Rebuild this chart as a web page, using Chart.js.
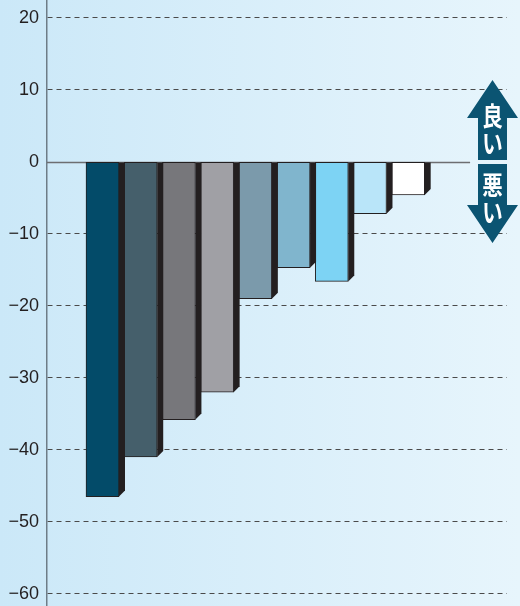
<!DOCTYPE html>
<html><head><meta charset="utf-8">
<script src="https://cdn.jsdelivr.net/npm/chart.js@4.4.1/dist/chart.umd.min.js"></script>
<style>html,body{margin:0;padding:0;background:#d6edf9}#wrap{width:520px;height:606px;position:relative}</style>
</head><body><div id="wrap"><canvas id="c" width="520" height="606"></canvas></div>
<script>
const categories = ['1','2','3','4','5','6','7','8','9'];
const values = [-46.5, -41.0, -35.8, -32.0, -19.0, -14.7, -16.6, -7.2, -4.6];
const barColors = ['#034b69','#455f6b','#77777b','#a0a0a5','#7b9aab','#80b5cd','#7dd3f4','#b9e5f9','#ffffff'];
const tickValues = [20, 10, 0, -10, -20, -30, -40, -50, -60];
const arrowUpText = ['良','い'];
const arrowDownText = ['悪','い'];

const bgPlugin = {
  id: 'bg',
  beforeDraw(chart) {
    const {ctx, width, height} = chart;
    const g = ctx.createLinearGradient(0, 0, width, 0);
    g.addColorStop(0, '#cbe8f8');
    g.addColorStop(1, '#e7f5fc');
    ctx.save(); ctx.fillStyle = g; ctx.fillRect(0, 0, width, height); ctx.restore();
  }
};

const zeroLinePlugin = {
  id: 'zeroLine',
  beforeDatasetsDraw(chart) {
    const {ctx, scales: {x, y}, chartArea} = chart;
    const py = Math.round(y.getPixelForValue(0)) + 0.5;
    ctx.save();
    ctx.strokeStyle = '#6d6e71'; ctx.lineWidth = 1.5;
    ctx.beginPath(); ctx.moveTo(chartArea.left, py);
    ctx.lineTo(x.getPixelForValue(categories.length + 1.62), py); ctx.stroke();
    ctx.restore();
  }
};

const sidePlugin = {
  id: 'sides',
  afterDatasetsDraw(chart) {
    const {ctx} = chart;
    const meta = chart.getDatasetMeta(0);
    const d = 6;
    ctx.save();
    ctx.fillStyle = '#231f20';
    meta.data.forEach(el => {
      const p = el.getProps(['x','y','base','width'], true);
      const r = p.x + p.width / 2;
      ctx.beginPath();
      ctx.moveTo(r, p.base);
      ctx.lineTo(r + d, p.base);
      ctx.lineTo(r + d, p.y - d);
      ctx.lineTo(r, p.y);
      ctx.closePath();
      ctx.fill();
    });
    ctx.restore();
  }
};

const arrowPlugin = {
  id: 'arrow',
  afterDraw(chart) {
    const {ctx} = chart;
    const cx = 492.5, sl = 478, sr = 507, hl = 467, hr = 518;
    ctx.save();
    ctx.fillStyle = '#0b5472';
    // up arrow
    ctx.beginPath();
    ctx.moveTo(cx, 80); ctx.lineTo(hr, 118); ctx.lineTo(sr, 118); ctx.lineTo(sr, 160);
    ctx.lineTo(sl, 160); ctx.lineTo(sl, 118); ctx.lineTo(hl, 118); ctx.closePath(); ctx.fill();
    // down arrow
    ctx.beginPath();
    ctx.moveTo(sl, 164); ctx.lineTo(sr, 164); ctx.lineTo(sr, 205); ctx.lineTo(hr, 205);
    ctx.lineTo(cx, 243); ctx.lineTo(hl, 205); ctx.lineTo(sl, 205); ctx.closePath(); ctx.fill();
    ctx.fillStyle = '#ffffff';
    ctx.font = 'bold 25px "Noto Sans CJK JP"';
    ctx.textAlign = 'center'; ctx.textBaseline = 'middle';
    const drawChar = (ch, y) => {
      ctx.save(); ctx.translate(cx, y); ctx.scale(0.82, 1.05); ctx.fillText(ch, 0, 0); ctx.restore();
    };
    drawChar(arrowUpText[0], 116);
    drawChar(arrowUpText[1], 143);
    drawChar(arrowDownText[0], 185);
    drawChar(arrowDownText[1], 212);
    ctx.restore();
  }
};

new Chart(document.getElementById('c'), {
  type: 'bar',
  data: {
    datasets: [{
      label: 'data',
      data: values.map((v, i) => ({x: i + 1, y: v})),
      backgroundColor: barColors,
      borderColor: '#231f20',
      borderWidth: 1,
      borderSkipped: false,
      barThickness: 33
    }]
  },
  options: {
    responsive: false,
    animation: false,
    events: [],
    layout: {padding: {left: 0, right: 13, top: 0, bottom: 0}},
    plugins: {legend: {display: false}, tooltip: {enabled: false}, title: {display: false}},
    scales: {
      x: {
        type: 'linear', display: false, offset: false,
        min: -0.4525, max: 11.586,
        grid: {display: false}
      },
      y: {
        min: -61.7, max: 22.5,
        afterBuildTicks(scale) { scale.ticks = tickValues.map(v => ({value: v})); },
        afterFit(scale) { scale.width = 47; scale.paddingTop = 0; scale.paddingBottom = 0; },
        grid: {
          drawTicks: false,
          lineWidth: 1,
          color: ctx => (ctx.tick && ctx.tick.value === 0) ? 'rgba(0,0,0,0)' : '#4a4a4a'
        },
        border: {display: true, color: '#6e7d87', width: 1.5, dash: [5, 4]},
        ticks: {
          padding: 8,
          color: '#231f20',
          font: {family: '"Liberation Sans", Arial, sans-serif', size: 18},
          callback: v => String(v).replace('-', '\u2212')
        }
      }
    }
  },
  plugins: [bgPlugin, zeroLinePlugin, sidePlugin, arrowPlugin]
});
</script>
</body></html>
